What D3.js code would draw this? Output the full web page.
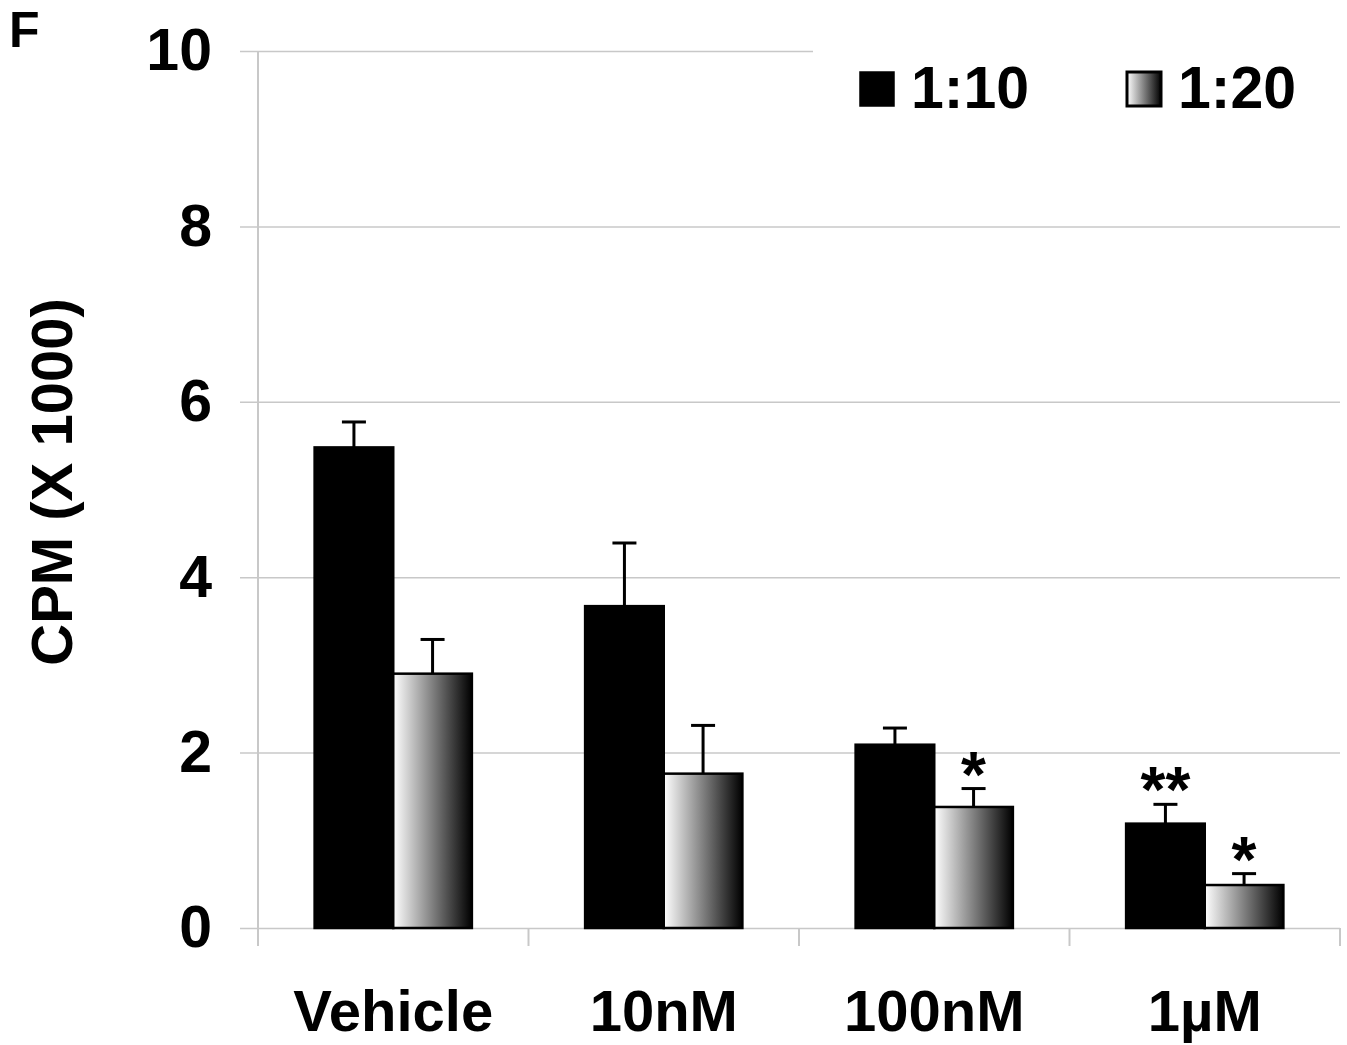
<!DOCTYPE html>
<html>
<head>
<meta charset="utf-8">
<script src="https://cdn.jsdelivr.net/npm/d3@7"></script>
<style>
  body { margin: 0; background: #fff; }
  text { font-family: "Liberation Sans", Arial, sans-serif; font-weight: bold; fill: #000; }
</style>
</head>
<body>
<div class="chart"></div>
<script>
var width = 1347
var height = 1045

// data (CPM x 1000)
var categories = ['Vehicle', '10nM', '100nM', '1\u00b5M']
var series = ['1:10', '1:20']
var mean110 = [5.48, 3.67, 2.09, 1.19]
var err110 = [0.29, 0.72, 0.19, 0.22]
var mean120 = [2.90, 1.76, 1.38, 0.49]
var err120 = [0.39, 0.55, 0.21, 0.13]
var stars110 = ['', '', '', '**']
var stars120 = ['', '', '*', '*']
var yTicks = [0, 2, 4, 6, 8, 10]

var rows = categories.map(function (c, i) {
    return {
        cat: c,
        bars: [
            { s: '1:10', v: mean110[i], e: err110[i], star: stars110[i] },
            { s: '1:20', v: mean120[i], e: err120[i], star: stars120[i] }
        ]
    }
})

var plotLeft = 258, plotRight = 1340, plotTop = 51, plotBottom = 928

var svg = d3.select('.chart').append('svg')
    .attr('width', width)
    .attr('height', height)

var grad = svg.append('defs').append('linearGradient')
    .attr('id', 'fade')
    .attr('x1', '0%').attr('x2', '100%')
    .attr('y1', '0%').attr('y2', '0%')
grad.append('stop').attr('offset', '0%').attr('stop-color', '#ffffff')
grad.append('stop').attr('offset', '100%').attr('stop-color', '#000000')

var y = d3.scaleLinear().domain([0, 10]).range([plotBottom, plotTop])
var x0 = d3.scaleBand().domain(categories).range([plotLeft, plotRight]).padding(0)
var x1 = d3.scaleBand().domain(series).range([0, x0.bandwidth()])
    .paddingInner(0).paddingOuter(0.72)

// gridlines + y labels
var yAxis = svg.append('g')
    .attr('transform', 'translate(240,0)')
    .call(d3.axisLeft(y).tickValues(yTicks).tickSize(-(plotRight - 240)).tickPadding(28))
yAxis.select('.domain').remove()
yAxis.selectAll('line').attr('stroke', '#c8c8c8').attr('stroke-width', 1.5)
yAxis.selectAll('text').style('font-size', '59px')

// y axis line
svg.append('line')
    .attr('x1', plotLeft).attr('x2', plotLeft)
    .attr('y1', y(10)).attr('y2', plotBottom)
    .attr('stroke', '#c8c8c8').attr('stroke-width', 2)

// x category ticks
var bounds = categories.map(function (c) { return x0(c) }).concat([plotRight])
svg.selectAll('.xtick')
    .data(bounds)
    .enter()
    .append('line')
    .attr('class', 'xtick')
    .attr('x1', function (d) { return d }).attr('x2', function (d) { return d })
    .attr('y1', plotBottom).attr('y2', plotBottom + 18)
    .attr('stroke', '#c8c8c8').attr('stroke-width', 2)

var xAxis = svg.append('g')
    .attr('transform', 'translate(0,' + plotBottom + ')')
    .call(d3.axisBottom(x0).tickSize(0).tickPadding(62))
xAxis.select('.domain').remove()
xAxis.selectAll('text').style('font-size', '58px')

// legend box hides the top gridline
svg.append('rect')
    .attr('x', 813).attr('y', 36)
    .attr('width', width - 813).attr('height', 100)
    .attr('fill', '#fff')

// bars
var groups = svg.selectAll('.grp')
    .data(rows)
    .enter()
    .append('g')
    .attr('class', 'grp')
    .attr('transform', function (d) { return 'translate(' + x0(d.cat) + ',0)' })

var bars = groups.selectAll('.bar')
    .data(function (d) { return d.bars })
    .enter()
    .append('g')
    .attr('class', 'bar')

bars.append('line')
    .attr('x1', function (d) { return x1(d.s) + x1.bandwidth() / 2 })
    .attr('x2', function (d) { return x1(d.s) + x1.bandwidth() / 2 })
    .attr('y1', function (d) { return y(d.v) })
    .attr('y2', function (d) { return y(d.v + d.e) })
    .attr('stroke', '#000').attr('stroke-width', 3)

bars.append('line')
    .attr('x1', function (d) { return x1(d.s) + x1.bandwidth() / 2 - 12 })
    .attr('x2', function (d) { return x1(d.s) + x1.bandwidth() / 2 + 12 })
    .attr('y1', function (d) { return y(d.v + d.e) })
    .attr('y2', function (d) { return y(d.v + d.e) })
    .attr('stroke', '#000').attr('stroke-width', 3)

bars.append('rect')
    .attr('x', function (d) { return x1(d.s) })
    .attr('y', function (d) { return y(d.v) })
    .attr('width', x1.bandwidth())
    .attr('height', function (d) { return plotBottom - y(d.v) })
    .attr('fill', function (d) { return d.s === '1:10' ? '#000' : 'url(#fade)' })
    .attr('stroke', '#000').attr('stroke-width', 2.5)

bars.append('text')
    .attr('x', function (d) { return x1(d.s) + x1.bandwidth() / 2 })
    .attr('y', function (d) { return y(d.v + d.e) + 8 })
    .attr('text-anchor', 'middle')
    .style('font-size', '64px')
    .text(function (d) { return d.star })

// legend
var legendX = [859, 1126]
var legend = svg.selectAll('.leg')
    .data(series)
    .enter()
    .append('g')
    .attr('class', 'leg')
    .attr('transform', function (d, i) { return 'translate(' + legendX[i] + ',71)' })

legend.append('rect')
    .attr('x', 1).attr('y', 1)
    .attr('width', 34).attr('height', 34)
    .attr('fill', function (d, i) { return i === 0 ? '#000' : 'url(#fade)' })
    .attr('stroke', '#000').attr('stroke-width', function (d, i) { return i === 0 ? 1.5 : 3 })

legend.append('text')
    .attr('x', 52)
    .attr('y', 37)
    .style('font-size', '59px')
    .text(function (d) { return d })

// y title
svg.append('text')
    .attr('transform', 'translate(72,482) rotate(-90)')
    .attr('text-anchor', 'middle')
    .style('font-size', '58px')
    .text('CPM (X 1000)')

// panel letter
svg.append('text')
    .attr('x', 9).attr('y', 47)
    .style('font-size', '50px')
    .text('F')
</script>
</body>
</html>
